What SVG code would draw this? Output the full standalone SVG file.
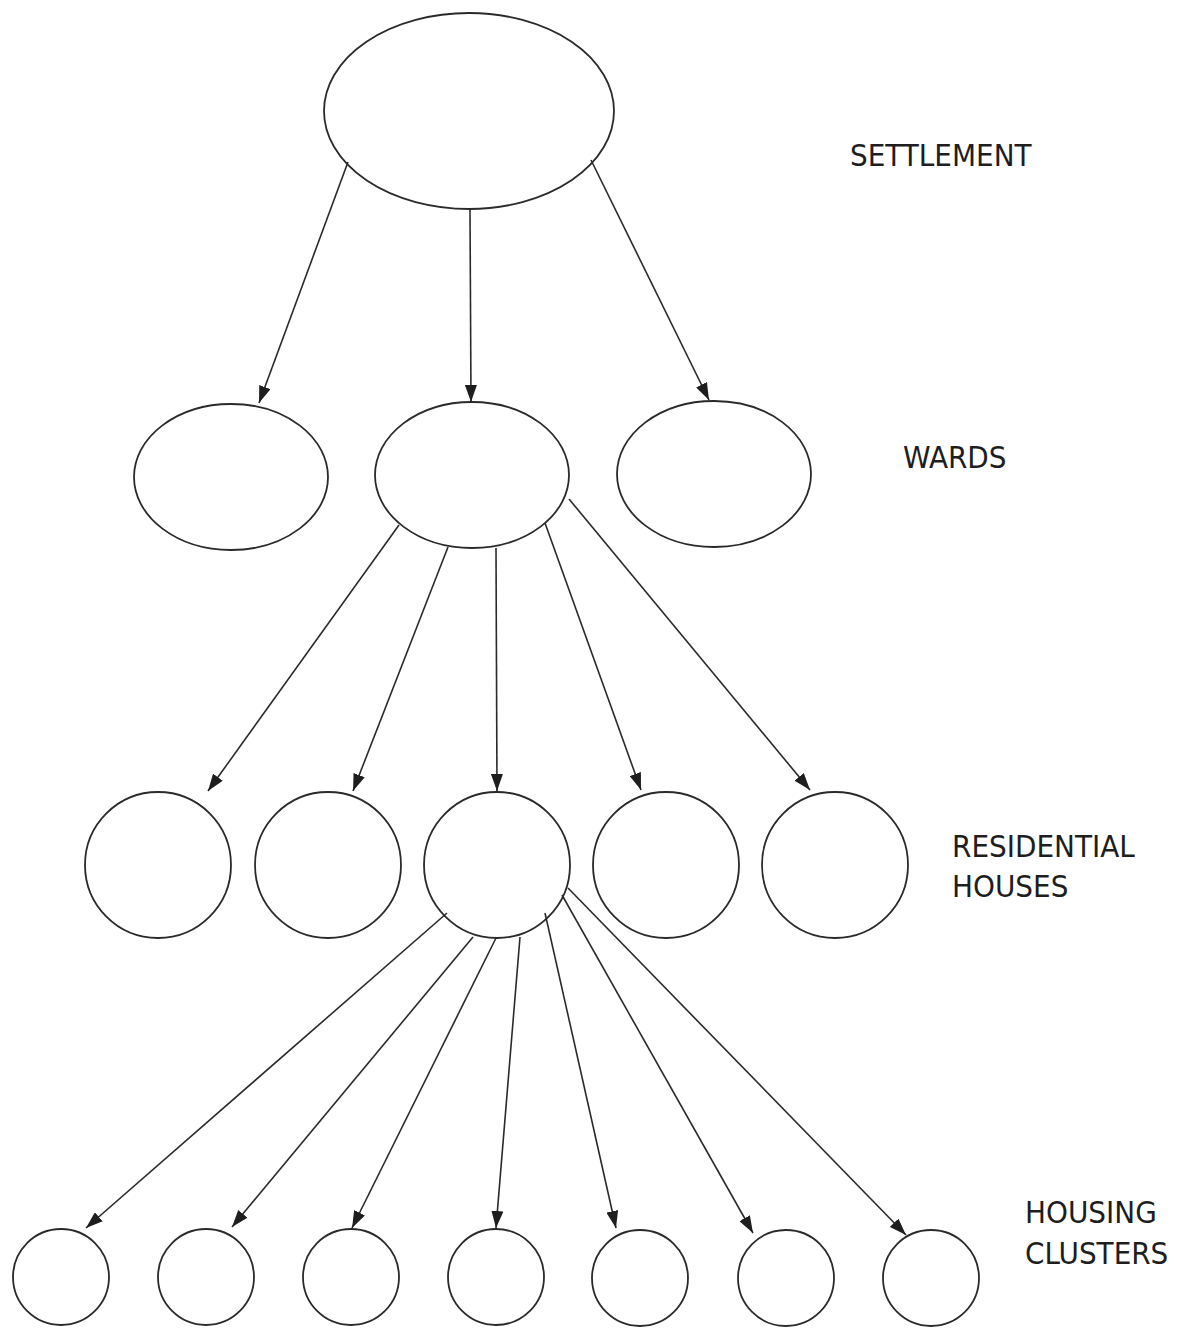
<svg xmlns="http://www.w3.org/2000/svg" width="1178" height="1331" viewBox="0 0 1178 1331">
<style>
.n{fill:#fff;stroke:#2a2a2a;stroke-width:1.8}
.c line{stroke:#2a2a2a;stroke-width:1.6}
.t{font-family:"DejaVu Sans Condensed","DejaVu Sans",sans-serif;font-stretch:condensed;font-size:31px;fill:#1e1e1e}
</style>
<defs>
<marker id="ah" markerUnits="userSpaceOnUse" markerWidth="17" markerHeight="12" refX="17" refY="6" orient="auto">
<path d="M0,0 L17,6 L0,12 z" fill="#1e1e1e"/>
</marker>
</defs>
<rect width="1178" height="1331" fill="#fff"/>
<g id="settlement"><ellipse class="n" cx="469" cy="111" rx="145" ry="98"/></g>
<g id="ward1"><ellipse class="n" cx="231" cy="477" rx="97" ry="73"/></g>
<g id="ward2"><ellipse class="n" cx="472" cy="475" rx="97" ry="73"/></g>
<g id="ward3"><ellipse class="n" cx="714" cy="474" rx="97" ry="73"/></g>
<g id="house1"><circle class="n" cx="158" cy="865" r="73"/></g>
<g id="house2"><circle class="n" cx="328" cy="865" r="73"/></g>
<g id="house3"><circle class="n" cx="497" cy="865" r="73"/></g>
<g id="house4"><circle class="n" cx="666" cy="865" r="73"/></g>
<g id="house5"><circle class="n" cx="835" cy="865" r="73"/></g>
<g id="cluster1"><circle class="n" cx="61" cy="1277" r="48"/></g>
<g id="cluster2"><circle class="n" cx="206" cy="1277" r="48"/></g>
<g id="cluster3"><circle class="n" cx="351" cy="1277" r="48"/></g>
<g id="cluster4"><circle class="n" cx="496" cy="1277" r="48"/></g>
<g id="cluster5"><circle class="n" cx="640" cy="1278" r="48"/></g>
<g id="cluster6"><circle class="n" cx="786" cy="1278" r="48"/></g>
<g id="cluster7"><circle class="n" cx="931" cy="1278" r="48"/></g>
<g id="connectors" class="c">
<line x1="348" y1="162" x2="259" y2="403" marker-end="url(#ah)"/>
<line x1="470" y1="209" x2="471" y2="402" marker-end="url(#ah)"/>
<line x1="591" y1="160" x2="709" y2="400" marker-end="url(#ah)"/>
<line x1="399" y1="525" x2="208" y2="791" marker-end="url(#ah)"/>
<line x1="448" y1="547" x2="353" y2="791" marker-end="url(#ah)"/>
<line x1="496" y1="548" x2="497" y2="791" marker-end="url(#ah)"/>
<line x1="545" y1="523" x2="641" y2="790" marker-end="url(#ah)"/>
<line x1="569" y1="499" x2="810" y2="790" marker-end="url(#ah)"/>
<line x1="447" y1="913" x2="86" y2="1228" marker-end="url(#ah)"/>
<line x1="473" y1="937" x2="232" y2="1227" marker-end="url(#ah)"/>
<line x1="496" y1="938" x2="352" y2="1228" marker-end="url(#ah)"/>
<line x1="520" y1="937" x2="496" y2="1228" marker-end="url(#ah)"/>
<line x1="545" y1="913" x2="616" y2="1228" marker-end="url(#ah)"/>
<line x1="562" y1="895" x2="753" y2="1233" marker-end="url(#ah)"/>
<line x1="568" y1="888" x2="906" y2="1235" marker-end="url(#ah)"/>
</g>
<g id="labels">
<text class="t" x="850" y="166">SETTLEMENT</text>
<text class="t" x="903" y="468">WARDS</text>
<text class="t" x="952" y="857">RESIDENTIAL</text>
<text class="t" x="952" y="897">HOUSES</text>
<text class="t" x="1025" y="1223">HOUSING</text>
<text class="t" x="1025" y="1264">CLUSTERS</text>
</g>
</svg>
